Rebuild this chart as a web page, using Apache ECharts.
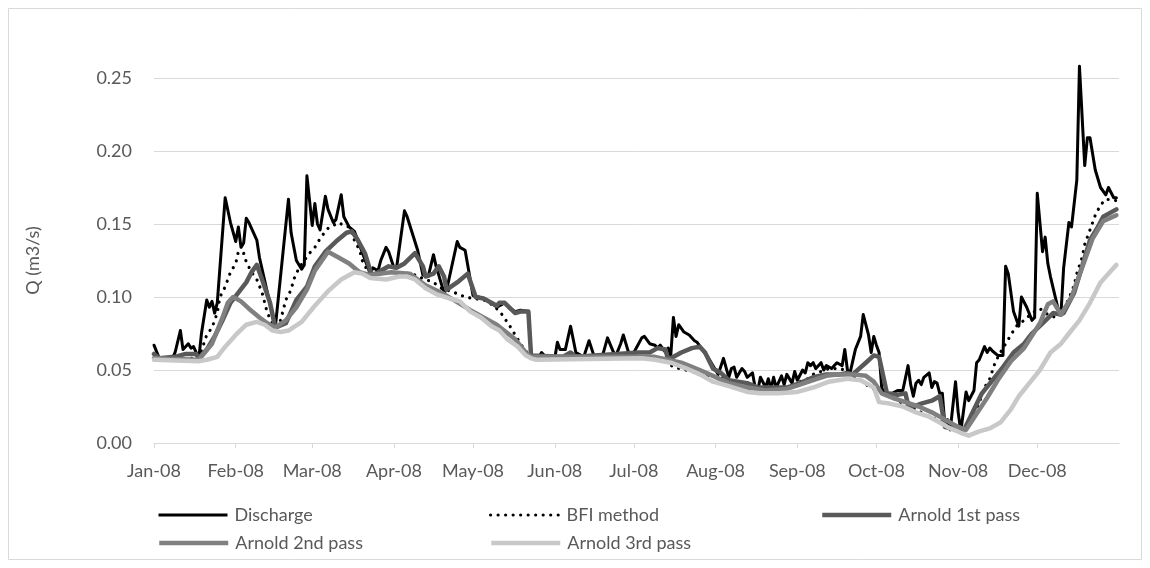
<!DOCTYPE html>
<html>
<head>
<meta charset="utf-8">
<script src="https://cdn.jsdelivr.net/npm/echarts@6/dist/echarts.min.js"></script>
<style>
  html, body { margin: 0; padding: 0; background: #fff; }
  #chart { width: 1150px; height: 568px; }
</style>
</head>
<body>
<div id="chart"></div>
<script>
// Daily flow record for 2008: each series is stored as day-of-year (0 = 1 Jan) and flow in m3/s.
const dischargeDays = [0,2,7,8,10,11,13,14,15,17,18,20,21,22,23,24,27,29,31,32,33,34,35,36,39,40,46,51,52,54,56,57,58,60,61,62,63,65,66,68,69,71,72,74,76,82,83,85,86,88,89,91,92,95,96,100,102,104,106,107,110,111,115,116,118,121,123,125,128,130,133,135,137,139,142,143,144,146,147,149,152,153,154,156,158,160,163,165,167,170,172,175,177,178,180,182,185,186,188,190,191,192,194,195,196,197,198,199,201,203,205,206,210,213,214,216,218,219,220,221,223,224,225,227,228,229,230,232,233,234,235,236,238,239,240,242,243,244,246,247,248,249,250,251,253,254,255,257,259,261,262,263,264,266,268,269,271,272,273,274,275,276,277,280,282,284,286,287,288,289,290,291,292,294,295,296,297,298,299,300,301,302,304,305,306,308,309,311,312,313,315,316,317,318,320,322,323,324,326,328,329,331,333,334,335,337,338,339,340,343,344,345,347,348,350,351,353,354,355,357,359,361,362,364,365];
const dischargeQ = [0.067,0.058,0.058,0.062,0.077,0.064,0.068,0.065,0.066,0.058,0.075,0.098,0.093,0.097,0.089,0.096,0.168,0.151,0.138,0.148,0.134,0.137,0.154,0.151,0.139,0.127,0.079,0.167,0.144,0.125,0.119,0.122,0.183,0.149,0.164,0.150,0.146,0.169,0.160,0.151,0.153,0.170,0.155,0.148,0.145,0.116,0.120,0.118,0.125,0.134,0.131,0.120,0.120,0.159,0.155,0.132,0.115,0.114,0.129,0.121,0.103,0.105,0.138,0.134,0.132,0.101,0.100,0.099,0.096,0.093,0.096,0.092,0.090,0.091,0.090,0.061,0.059,0.059,0.062,0.058,0.058,0.069,0.064,0.064,0.080,0.062,0.059,0.070,0.059,0.059,0.072,0.059,0.068,0.074,0.062,0.062,0.072,0.073,0.068,0.067,0.065,0.067,0.062,0.065,0.060,0.086,0.073,0.081,0.076,0.074,0.070,0.069,0.059,0.050,0.047,0.058,0.045,0.051,0.052,0.045,0.051,0.049,0.045,0.048,0.038,0.036,0.045,0.038,0.044,0.037,0.045,0.038,0.046,0.040,0.047,0.041,0.049,0.043,0.050,0.048,0.055,0.053,0.055,0.051,0.055,0.050,0.053,0.051,0.055,0.053,0.064,0.050,0.048,0.064,0.073,0.088,0.074,0.062,0.073,0.067,0.062,0.038,0.034,0.034,0.036,0.036,0.053,0.040,0.032,0.041,0.043,0.040,0.045,0.048,0.038,0.042,0.041,0.034,0.034,0.011,0.016,0.009,0.042,0.021,0.008,0.035,0.029,0.036,0.055,0.057,0.066,0.062,0.065,0.063,0.060,0.060,0.121,0.116,0.090,0.080,0.100,0.093,0.084,0.086,0.171,0.131,0.141,0.123,0.114,0.091,0.089,0.120,0.151,0.148,0.180,0.258,0.190,0.209,0.209,0.187,0.175,0.170,0.175,0.168,0.168];

const bfiDays = [0,17,20,22,24,25,27,29,31,32,34,35,37,39,41,42,43,45,46,48,50,52,53,55,57,59,61,63,65,66,68,70,72,74,76,78,79,81,82,90,98,100,106,109,114,118,121,125,129,132,135,137,139,141,143,190,193,197,204,210,215,220,223,227,233,240,245,248,250,253,256,260,262,264,268,270,273,277,280,285,289,293,297,300,303,306,308,310,312,313,314,315,317,319,321,323,325,327,330,333,336,339,342,344,347,349,350,352,353,355,357,359,361,365];
const bfiQ = [0.058,0.058,0.074,0.079,0.089,0.100,0.107,0.117,0.123,0.131,0.130,0.124,0.117,0.112,0.103,0.096,0.089,0.082,0.079,0.084,0.098,0.105,0.112,0.120,0.125,0.130,0.134,0.140,0.145,0.147,0.149,0.151,0.149,0.148,0.139,0.132,0.125,0.118,0.116,0.117,0.116,0.114,0.110,0.106,0.103,0.100,0.099,0.098,0.094,0.088,0.080,0.074,0.068,0.063,0.059,0.059,0.058,0.052,0.049,0.046,0.045,0.041,0.038,0.036,0.035,0.038,0.042,0.044,0.047,0.049,0.051,0.051,0.050,0.046,0.043,0.040,0.037,0.034,0.031,0.026,0.023,0.019,0.016,0.013,0.010,0.008,0.011,0.016,0.023,0.028,0.032,0.038,0.044,0.055,0.062,0.068,0.074,0.080,0.084,0.089,0.092,0.088,0.086,0.088,0.099,0.108,0.116,0.127,0.136,0.146,0.156,0.163,0.167,0.166];

const pass1Days = [0,2,8,12,16,17,20,23,26,29,32,35,37,39,41,44,46,50,54,58,61,65,69,73,75,77,80,82,83,86,89,92,95,99,102,103,106,108,110,111,115,119,122,125,130,131,133,137,139,141,142,143,155,158,160,184,188,191,194,195,200,204,207,209,212,215,218,225,229,234,240,245,250,255,260,263,265,270,273,275,278,282,285,286,288,291,295,298,300,303,305,307,311,314,318,322,326,330,333,337,341,344,345,349,352,355,358,360,365];
const pass1Q = [0.061,0.058,0.059,0.061,0.061,0.058,0.064,0.073,0.084,0.096,0.103,0.110,0.117,0.122,0.112,0.096,0.079,0.082,0.098,0.107,0.121,0.131,0.138,0.144,0.145,0.140,0.130,0.118,0.115,0.118,0.121,0.120,0.123,0.130,0.121,0.114,0.116,0.121,0.114,0.105,0.110,0.116,0.100,0.099,0.094,0.096,0.096,0.089,0.090,0.090,0.090,0.060,0.059,0.062,0.059,0.062,0.062,0.065,0.064,0.057,0.062,0.065,0.066,0.062,0.051,0.048,0.043,0.041,0.038,0.038,0.038,0.041,0.045,0.047,0.047,0.048,0.047,0.055,0.060,0.059,0.034,0.033,0.034,0.026,0.025,0.027,0.029,0.032,0.011,0.010,0.011,0.008,0.023,0.034,0.043,0.052,0.062,0.068,0.075,0.082,0.089,0.088,0.089,0.103,0.121,0.139,0.148,0.155,0.160];

const pass2Days = [0,17,22,26,28,30,33,36,40,43,46,50,54,58,61,66,70,74,78,82,90,97,103,110,120,130,137,141,143,190,200,207,212,218,225,232,240,245,250,255,260,265,270,273,276,280,285,290,295,300,305,308,312,316,320,325,330,336,339,341,344,348,352,356,360,365];
const pass2Q = [0.058,0.057,0.068,0.086,0.096,0.100,0.097,0.092,0.086,0.082,0.079,0.084,0.093,0.105,0.118,0.131,0.127,0.123,0.117,0.115,0.117,0.116,0.108,0.102,0.091,0.081,0.071,0.062,0.059,0.059,0.055,0.050,0.046,0.041,0.038,0.036,0.037,0.040,0.043,0.046,0.047,0.047,0.046,0.042,0.034,0.031,0.028,0.025,0.021,0.016,0.011,0.009,0.020,0.031,0.043,0.056,0.065,0.082,0.095,0.097,0.088,0.100,0.120,0.140,0.152,0.156];

const pass3Days = [0,17,20,24,27,31,35,39,42,45,48,51,56,61,66,71,76,79,82,88,93,96,99,103,107,112,116,120,124,128,131,134,138,141,143,145,185,190,196,202,207,212,218,225,230,237,244,250,256,263,268,273,275,279,284,289,294,298,302,306,309,313,317,321,325,328,332,336,340,344,347,351,355,359,363,365];
const pass3Q = [0.057,0.056,0.057,0.059,0.066,0.074,0.081,0.083,0.081,0.077,0.076,0.077,0.083,0.094,0.104,0.112,0.117,0.116,0.113,0.112,0.114,0.114,0.112,0.106,0.102,0.099,0.097,0.090,0.086,0.080,0.077,0.071,0.066,0.060,0.058,0.057,0.058,0.057,0.055,0.051,0.047,0.042,0.039,0.035,0.034,0.034,0.035,0.038,0.042,0.044,0.043,0.038,0.028,0.027,0.025,0.021,0.018,0.014,0.010,0.007,0.005,0.008,0.010,0.014,0.023,0.032,0.041,0.050,0.062,0.068,0.075,0.084,0.096,0.110,0.118,0.122];

const monthTicks = ['Jan-08','Feb-08','Mar-08','Apr-08','May-08','Jun-08','Jul-08','Aug-08','Sep-08','Oct-08','Nov-08','Dec-08'];

const DAY = 86400000;
const START = Date.UTC(2008, 0, 1);
const END = Date.UTC(2009, 0, 1);
const toPairs = (days, q) => days.map((d, i) => [START + d * DAY, q[i]]);

const FONT = 'Lato';
const TEXT = '#595959';
const FS = 18;

const seriesDefs = [
  { name: 'Discharge',       days: dischargeDays, q: dischargeQ, color: '#000000', width: 3,   type: 'solid',     cap: 'butt' },
  { name: 'BFI method',      days: bfiDays,       q: bfiQ,       color: '#000000', width: 3.2, type: [0.01, 7.5], cap: 'round' },
  { name: 'Arnold 1st pass', days: pass1Days,     q: pass1Q,     color: '#595959', width: 4.5, type: 'solid',     cap: 'butt' },
  { name: 'Arnold 2nd pass', days: pass2Days,     q: pass2Q,     color: '#808080', width: 4.5, type: 'solid',     cap: 'butt' },
  { name: 'Arnold 3rd pass', days: pass3Days,     q: pass3Q,     color: '#c8c8c8', width: 4.5, type: 'solid',     cap: 'butt' }
];

const legendPos = [
  { left: 157, top: 506 },
  { left: 489, top: 506 },
  { left: 820, top: 506 },
  { left: 157, top: 534 },
  { left: 489, top: 534 }
];

const chart = echarts.init(document.getElementById('chart'), null, { renderer: 'canvas' });

chart.setOption({
  animation: false,
  backgroundColor: '#ffffff',
  textStyle: { fontFamily: FONT },
  grid: { left: 154, right: 31, top: 78, bottom: 125, containLabel: false },
  graphic: [{
    type: 'rect',
    shape: { x: 8.5, y: 8.5, width: 1133, height: 551 },
    style: { fill: 'none', stroke: '#d9d9d9', lineWidth: 1 },
    silent: true
  }],
  legend: seriesDefs.map((s, i) => ({
    data: [s.name],
    left: legendPos[i].left,
    top: legendPos[i].top,
    padding: 0,
    orient: 'horizontal',
    itemWidth: 69,
    itemHeight: 20,
    itemGap: 0,
    selectedMode: false,
    itemStyle: { opacity: 0 },
    lineStyle: { color: s.color, width: s.width, type: s.type, cap: s.cap },
    textStyle: { color: TEXT, fontSize: FS, fontFamily: FONT, padding: [0, 0, 0, 2] }
  })),
  xAxis: {
    type: 'time',
    min: START,
    max: END,
    splitNumber: 12,
    minInterval: 28 * DAY,
    maxInterval: 31 * DAY,
    axisLine: { show: true, lineStyle: { color: '#d9d9d9', width: 1 } },
    axisTick: { show: true, length: 5, lineStyle: { color: '#d9d9d9' } },
    splitLine: { show: false },
    axisLabel: {
      color: TEXT,
      fontSize: FS,
      fontFamily: FONT,
      margin: 19,
      hideOverlap: false,
      showMaxLabel: false,
      formatter: function (val) {
        const d = new Date(val);
        return (d.getUTCFullYear() === 2008 && d.getUTCDate() === 1) ? monthTicks[d.getUTCMonth()] : '';
      }
    }
  },
  yAxis: {
    type: 'value',
    min: 0,
    max: 0.25,
    interval: 0.05,
    name: 'Q (m3/s)',
    nameLocation: 'middle',
    nameGap: 112,
    nameRotate: 90,
    nameTextStyle: { color: TEXT, fontSize: FS, fontFamily: FONT },
    axisLine: { show: false },
    axisTick: { show: false },
    splitLine: { lineStyle: { color: '#d9d9d9', width: 1 } },
    axisLabel: {
      color: TEXT,
      fontSize: FS,
      fontFamily: FONT,
      margin: 22,
      formatter: v => v.toFixed(2)
    }
  },
  series: seriesDefs.map(s => ({
    name: s.name,
    type: 'line',
    data: toPairs(s.days, s.q),
    showSymbol: false,
    symbol: 'none',
    clip: false,
    smooth: false,
    color: s.color,
    lineStyle: { color: s.color, width: s.width, type: s.type, cap: 'round', join: 'round' },
    emphasis: { disabled: true }
  }))
});
</script>
</body>
</html>
